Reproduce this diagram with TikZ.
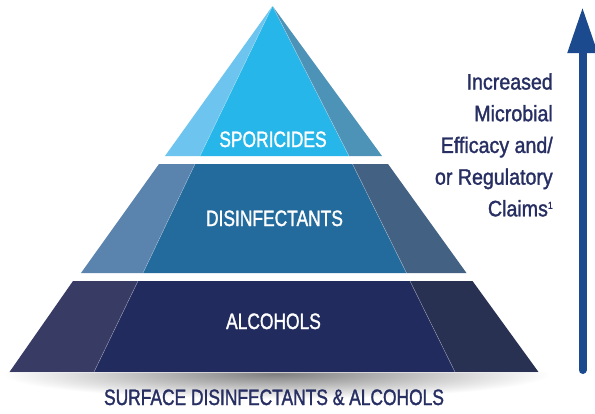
\documentclass[tikz,border=0pt]{standalone}
\usepackage{fontspec}
\setmainfont{Liberation Sans}
\newfontfamily\tierfont{Liberation Sans}[FakeStretch=0.78,FakeBold=1.4]
\newfontfamily\sidefont{Liberation Sans}[FakeStretch=0.88,FakeBold=1.4]
\usetikzlibrary{arrows.meta}
\definecolor{oneL}{HTML}{6DC5EF}
\definecolor{oneF}{HTML}{27B6E9}
\definecolor{oneR}{HTML}{4D93B7}
\definecolor{twoL}{HTML}{5A83AE}
\definecolor{twoF}{HTML}{236B9C}
\definecolor{twoR}{HTML}{426183}
\definecolor{thrL}{HTML}{383B64}
\definecolor{thrF}{HTML}{212B5E}
\definecolor{thrR}{HTML}{283152}
\definecolor{arrowblue}{HTML}{1C4A8E}
\definecolor{navytext}{HTML}{262E62}
\tikzset{
  tierlabel/.style={font=\tierfont\fontsize{22.3}{26}\selectfont, text=white, inner sep=0pt, anchor=base},
  sidetext/.style={font=\sidefont\fontsize{22.3}{31.7}\selectfont, text=navytext, inner sep=0pt, align=right},
  basetext/.style={font=\tierfont\fontsize{22.3}{26}\selectfont, text=navytext, inner sep=0pt, anchor=base},
  seam/.style={draw=white, draw opacity=0.45, line width=0.4pt},
  bigarrow/.style={line width=8pt, line cap=round, draw=arrowblue, -{Triangle[width=28pt,length=46pt]}}
}
\begin{document}
\begin{tikzpicture}[x=1pt,y=-1pt]
\useasboundingbox (0,0) rectangle (595,413);
\fill[white] (0,0) rectangle (595,413);
% shadow under the pyramid
\begin{scope}
  \clip (0,372) rectangle (595,413);
  \shade[inner color=black!50, outer color=white] (276,374) ellipse (274 and 25);
\end{scope}
% tier 1 (sporicides)
\fill[oneL] (272.5,6) -- (165,156) -- (200,156) -- cycle;
\fill[oneF] (272.5,6) -- (200,156) -- (349,156) -- cycle;
\fill[oneR] (272.5,6) -- (349,156) -- (382,156) -- cycle;
\draw[seam] (272.5,6) -- (200,156) (272.5,6) -- (349,156);
% tier 2 (disinfectants)
\fill[twoL] (159,164) -- (195,164) -- (143,273) -- (81,273) -- cycle;
\fill[twoF] (195,164) -- (352.5,164) -- (406.5,273) -- (143,273) -- cycle;
\fill[twoR] (352.5,164) -- (388,164) -- (466.5,273) -- (406.5,273) -- cycle;
\draw[seam] (195,164) -- (143,273) (352.5,164) -- (406.5,273);
% tier 3 (alcohols)
\fill[thrL] (73,281) -- (138,281) -- (94,372) -- (9.5,372) -- cycle;
\fill[thrF] (138,281) -- (410,281) -- (455,372) -- (94,372) -- cycle;
\fill[thrR] (410,281) -- (472.5,281) -- (538.5,372) -- (455,372) -- cycle;
\draw[seam] (138,281) -- (94,372) (410,281) -- (455,372);
\draw[draw=white, draw opacity=0.6, line width=0.5pt] (9.5,372) -- (538.5,372);
% labels
\node[tierlabel] (spor) at (273,147) {SPORICIDES};
\node[tierlabel] (disin) at (274.5,226) {DISINFECTANTS};
\node[tierlabel] (alco) at (273.5,329) {ALCOHOLS};
\node[basetext] (surf) at (274,405) {SURFACE DISINFECTANTS \& ALCOHOLS};
\node[sidetext, anchor=base east] (claims) at (553,216.3) {Increased\\Microbial\\Efficacy and/\\or Regulatory\\Claims\raisebox{7.5pt}{\fontsize{10}{10}\selectfont 1}};
% arrow
\coordinate (arrowtop) at (582.5,7);
\coordinate (arrowbot) at (582.5,370);
\draw[bigarrow] (arrowbot) -- (arrowtop);
\end{tikzpicture}
\end{document}
